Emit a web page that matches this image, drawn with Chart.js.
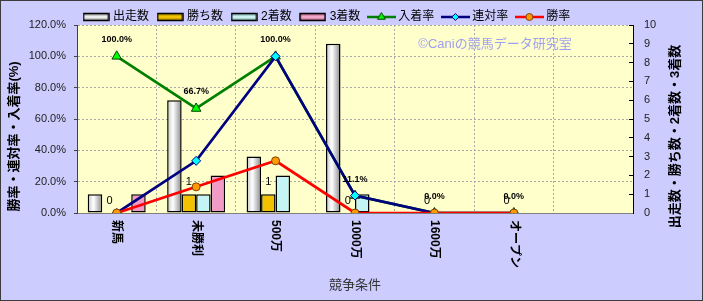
<!DOCTYPE html>
<html lang="ja">
<head>
<meta charset="utf-8">
<title>競争条件別成績</title>
<script src="https://cdn.jsdelivr.net/npm/chart.js@4.4.1/dist/chart.umd.min.js"></script>
<style>
  html, body { margin: 0; padding: 0; background: #fff; }
  #wrap { width: 703px; height: 301px; box-sizing: border-box; border: 1px solid #3c3c3c; background: #ccccff; }
  canvas { display: block; }
</style>
</head>
<body>
<div id="wrap"><canvas id="chart" width="701" height="299"></canvas></div>
<script>
'use strict';

/* データ */
const categories = ['新馬', '未勝利', '500万', '1000万', '1600万', 'オープン', ''];
const starts    = [1, 6, 3, 9, 0, 0, null];          // 出走数
const wins      = [0, 1, 1, 0, 0, 0, null];          // 勝ち数
const seconds   = [0, 1, 2, 1, 0, 0, null];          // 2着数
const thirds    = [1, 2, 0, 0, 0, 0, null];          // 3着数
const placeRate = [100, 66.7, 100, 11.1, 0, 0, null]; // 入着率
const quinRate  = [0, 33.3, 100, 11.1, 0, 0, null];   // 連対率
const winRate   = [0, 16.7, 33.3, 0, 0, 0, null];     // 勝率
const pctTicks  = [0, 20, 40, 60, 80, 100, 120];
const cntTicks  = [0, 1, 2, 3, 4, 5, 6, 7, 8, 9, 10];

const FONT = "'Liberation Sans', 'Noto Sans CJK JP', sans-serif";
const CAT_PCT = 0.73;

/* 凡例アイコン（棒） */
function barIcon(dark, light) {
  const c = document.createElement('canvas');
  c.width = 27; c.height = 10;
  const g = c.getContext('2d');
  const gr = g.createLinearGradient(0, 1, 0, 9);
  gr.addColorStop(0, dark);
  gr.addColorStop(0.5, light);
  gr.addColorStop(1, dark);
  g.fillStyle = gr;
  g.fillRect(1, 1.5, 25, 7);
  g.strokeStyle = '#000';
  g.lineWidth = 1.5;
  g.strokeRect(1, 1.5, 25, 7);
  return c;
}

/* 凡例アイコン（折れ線＋マーカー） */
function lineIcon(color, style, radius, fill, stroke) {
  const c = document.createElement('canvas');
  c.width = 29; c.height = 12;
  const g = c.getContext('2d');
  g.strokeStyle = color;
  g.lineWidth = 2.5;
  g.beginPath();
  g.moveTo(0, 6);
  g.lineTo(29, 6);
  g.stroke();
  g.fillStyle = fill;
  g.strokeStyle = stroke;
  g.lineWidth = 1;
  Chart.helpers.drawPoint(g, { pointStyle: style, radius, borderWidth: 1, rotation: 0 }, 14.5, 6);
  return c;
}

/* 出走数の棒：円柱風グラデーション */
function startsFill(c) {
  const chart = c.chart;
  const xs = chart.scales.x;
  if (!xs || c.dataIndex == null) return '#e8e8e8';
  const cx = xs.getPixelForValue(c.dataIndex);
  const bw = xs.width / categories.length * CAT_PCT / 4;
  const x0 = cx - 2 * bw;
  const gr = chart.ctx.createLinearGradient(x0, 0, x0 + bw, 0);
  gr.addColorStop(0, '#c4c4c4');
  gr.addColorStop(0.4, '#ffffff');
  gr.addColorStop(1, '#8a8a8a');
  return gr;
}

const legendIcons = [
  barIcon('#707070', '#ffffff'),
  barIcon('#8a6a00', '#ffd000'),
  barIcon('#4f8a8a', '#e0ffff'),
  barIcon('#94406a', '#ffb8d8'),
  lineIcon('#008000', 'triangle', 4.5, '#00ff00', '#004000'),
  lineIcon('#000080', 'rectRot', 3.5, '#00ffff', '#000080'),
  lineIcon('#ff0000', 'circle', 3.5, '#ff9900', '#804000'),
];

/* 背景・透かし・軸ラベル・データラベル */
const decor = {
  id: 'decor',
  afterLayout(chart) {
    // 凡例の開始位置をずらす
    const lg = chart.legend;
    const w = lg.right - lg.left;
    lg.left = 74;
    lg.right = 74 + w;
  },
  beforeDraw(chart) {
    const { ctx, chartArea: a } = chart;
    ctx.save();
    ctx.fillStyle = '#ffffcc';
    ctx.fillRect(a.left, a.top, a.right - a.left, a.bottom - a.top);
    ctx.font = '13px ' + FONT;
    ctx.fillStyle = '#a0a0f0';
    ctx.textAlign = 'center';
    ctx.textBaseline = 'middle';
    ctx.fillText('©Caniの競馬データ研究室', 494, 43);
    ctx.restore();
  },
  afterDatasetsDraw(chart) {
    const ctx = chart.ctx;
    ctx.save();
    ctx.textAlign = 'center';
    ctx.textBaseline = 'middle';
    ctx.fillStyle = '#000';

    ctx.font = '11px ' + FONT;
    chart.getDatasetMeta(1).data.forEach((bar, i) => {
      if (wins[i] == null) return;
      ctx.fillText(String(wins[i]), bar.x, bar.y - 12);
    });

    ctx.font = 'bold 9px ' + FONT;
    chart.getDatasetMeta(4).data.forEach((pt, i) => {
      if (placeRate[i] == null) return;
      ctx.fillText(placeRate[i].toFixed(1) + '%', pt.x, pt.y - 16.5);
    });
    ctx.restore();
  },
  afterDraw(chart) {
    const { ctx, chartArea: a } = chart;
    const xs = chart.scales.x;
    ctx.save();
    ctx.fillStyle = '#000';

    // 横軸ラベル（時計回りに回転）
    ctx.font = 'bold 12px ' + FONT;
    ctx.textAlign = 'left';
    ctx.textBaseline = 'middle';
    categories.forEach((lab, i) => {
      if (!lab) return;
      ctx.save();
      ctx.translate(xs.getPixelForTick(i), a.bottom + 7);
      ctx.rotate(Math.PI / 2);
      ctx.fillText(lab, 0, 0);
      ctx.restore();
    });

    // 縦軸タイトル
    ctx.font = 'bold 13px ' + FONT;
    ctx.textAlign = 'center';
    [[13.5, '勝率・連対率・入着率(%)'], [674.5, '出走数・勝ち数・2着数・3着数']].forEach(([x, t]) => {
      ctx.save();
      ctx.translate(x, 135.5);
      ctx.rotate(-Math.PI / 2);
      ctx.fillText(t, 0, 0);
      ctx.restore();
    });
    ctx.restore();
  },
};

const barBase = {
  yAxisID: 'y1',
  borderColor: '#000',
  borderWidth: 1.5,
  borderSkipped: false,
  categoryPercentage: CAT_PCT,
  barPercentage: 1,
};

const lineBase = {
  type: 'line',
  yAxisID: 'y',
  fill: false,
  tension: 0,
  borderWidth: 2.7,
  pointBorderWidth: 1,
  spanGaps: false,
};

new Chart(document.getElementById('chart'), {
  type: 'bar',
  data: {
    labels: categories,
    datasets: [
      { ...barBase, label: '出走数', data: starts,  backgroundColor: startsFill, order: 4 },
      { ...barBase, label: '勝ち数', data: wins,    backgroundColor: '#f2c200', order: 5 },
      { ...barBase, label: '2着数',  data: seconds, backgroundColor: '#c4f4f4', order: 6 },
      { ...barBase, label: '3着数',  data: thirds,  backgroundColor: '#f29ac6', order: 7 },
      { ...lineBase, label: '入着率', data: placeRate, borderColor: '#008000',
        pointStyle: 'triangle', pointRadius: 5.5, pointBackgroundColor: '#00ff00', pointBorderColor: '#004000', order: 3 },
      { ...lineBase, label: '連対率', data: quinRate, borderColor: '#000080',
        pointStyle: 'rectRot', pointRadius: 4.5, pointBackgroundColor: '#00ffff', pointBorderColor: '#000080', order: 2 },
      { ...lineBase, label: '勝率', data: winRate, borderColor: '#ff0000',
        pointStyle: 'circle', pointRadius: 4, pointBackgroundColor: '#ff9900', pointBorderColor: '#804000', order: 1 },
    ],
  },
  options: {
    responsive: false,
    animation: false,
    layout: { padding: 0 },
    plugins: {
      legend: {
        display: true,
        position: 'top',
        align: 'start',
        maxHeight: 24,
        labels: {
          usePointStyle: true,
          pointStyleWidth: 22,
          padding: 10,
          color: '#000',
          font: { family: FONT, size: 12 },
          generateLabels: chart => chart.data.datasets.map((ds, i) => ({
            text: ds.label,
            pointStyle: legendIcons[i],
            datasetIndex: i,
            hidden: !chart.isDatasetVisible(i),
            fontColor: '#000',
            lineWidth: 0,
            fillStyle: 'rgba(0,0,0,0)',
            strokeStyle: 'rgba(0,0,0,0)',
          })),
        },
      },
      tooltip: { enabled: false },
    },
    scales: {
      x: {
        offset: true,
        grid: { offset: true, color: '#a8a8a8', lineWidth: 1, drawTicks: false },
        border: { color: '#808080', width: 1, dash: [2, 2] },
        ticks: { display: false },
        title: {
          display: true,
          text: '競争条件',
          color: '#333',
          font: { family: FONT, size: 13 },
          padding: { top: 0, bottom: 7 },
        },
        afterFit: s => { s.height = 87; },
      },
      y: {
        position: 'left',
        min: 0,
        max: 120,
        afterBuildTicks: s => { s.ticks = pctTicks.map(v => ({ value: v })); },
        grid: { color: '#a8a8a8', lineWidth: 1, tickLength: 3, tickColor: '#404040' },
        border: { color: '#404040', width: 1, dash: [2, 2] },
        ticks: {
          padding: 8,
          color: '#222',
          font: { family: FONT, size: 11 },
          callback: v => v.toFixed(1) + '%',
        },
        afterFit: s => { s.width = 76; },
      },
      y1: {
        position: 'right',
        min: 0,
        max: 10,
        afterBuildTicks: s => { s.ticks = cntTicks.map(v => ({ value: v })); },
        grid: { drawOnChartArea: false, tickLength: -4, tickColor: '#000' },
        border: { color: '#000', width: 1 },
        ticks: {
          padding: 15,
          color: '#222',
          font: { family: FONT, size: 11 },
          callback: v => String(v),
        },
        afterFit: s => { s.width = 69; },
      },
    },
  },
  plugins: [decor],
});
</script>
</body>
</html>
